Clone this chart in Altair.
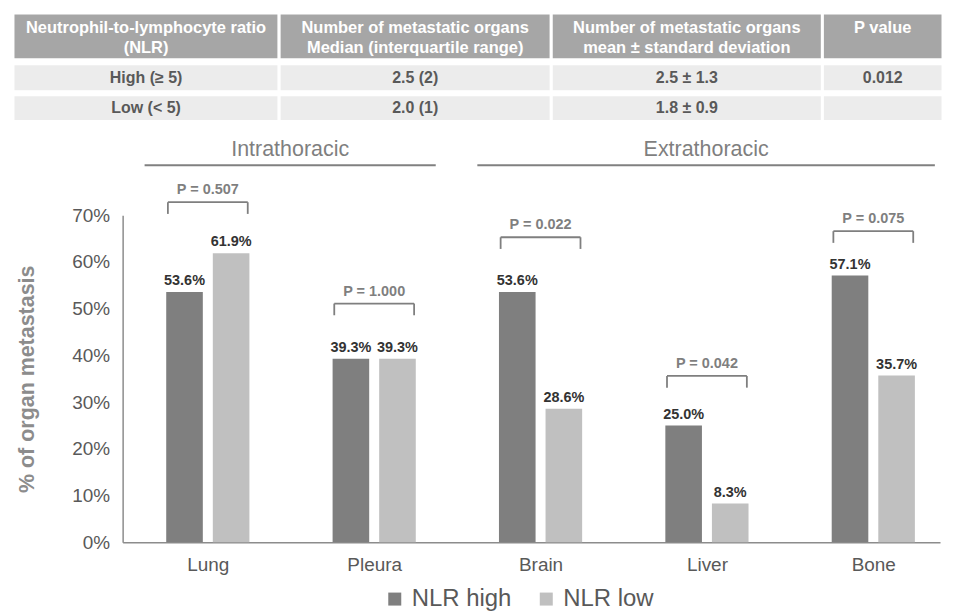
import json
import altair as alt
import pandas as pd

FONT = "Liberation Sans"

# ---------------- table content ----------------
TABLE_HEADER = [
    "Neutrophil-to-lymphocyte ratio\n(NLR)",
    "Number of metastatic organs\nMedian (interquartile range)",
    "Number of metastatic organs\nmean \u00b1 standard deviation",
    "P value",
]
ROW_HIGH = ["High (\u2265 5)", "2.5 (2)", "2.5 \u00b1 1.3", "0.012"]
ROW_LOW = ["Low (< 5)", "2.0 (1)", "1.8 \u00b1 0.9", ""]

# ---------------- chart data ----------------
ORGANS = ["Lung", "Pleura", "Brain", "Liver", "Bone"]
REGIONS = ["Intrathoracic", "Intrathoracic", "Extrathoracic", "Extrathoracic", "Extrathoracic"]
NLR_HIGH = [53.6, 39.3, 53.6, 25.0, 57.1]
NLR_LOW = [61.9, 39.3, 28.6, 8.3, 35.7]
P_VALUES = ["0.507", "1.000", "0.022", "0.042", "0.075"]
BRACKET_LEVEL = [72.8, 51.1, 65.3, 35.6, 66.6]
SERIES = ["NLR high", "NLR low"]
Y_TICKS = [0, 10, 20, 30, 40, 50, 60, 70]

# ---------------- layout constants ----------------
COL_WIDTHS = [267, 273, 272, 121]
ROW_SPANS = [(0, 47), (51, 79), (82, 109)]
TABLE_W = sum(COL_WIDTHS)
TABLE_H = 109
BAR_W = 0.22
BAR_GAP = 0.03
BRACKET_HALF = 0.24
LEG = 2.5
GROUP_LINE_Y = 80.7
GROUP_TEXT_Y = 82.6
GROUP_PAD_L = 0.38
GROUP_PAD_R = 0.37
X_DOMAIN = [-0.512, 4.401]
PLOT_W = 820
PLOT_H = 328

# ---------------- table frame ----------------
edges = [0]
for w in COL_WIDTHS:
    edges.append(edges[-1] + w)
cells = []
for r, texts in enumerate([TABLE_HEADER, ROW_HIGH, ROW_LOW]):
    for c, t in enumerate(texts):
        y0, y1 = ROW_SPANS[r]
        cells.append(dict(r=r, c=c, x0=edges[c], x1=edges[c + 1],
                          xc=(edges[c] + edges[c + 1]) / 2,
                          y0=y0, y1=y1, yc=(y0 + y1) / 2, text=t))
cells_df = pd.DataFrame(cells)

TX = alt.Scale(domain=[0, TABLE_W], nice=False, zero=False)
TY = alt.Scale(domain=[0, TABLE_H], nice=False, zero=False, reverse=True)
tbase = alt.Chart(cells_df)
t_head_rect = tbase.transform_filter("datum.r == 0").mark_rect(
    fill="#a6a6a6", stroke="white", strokeWidth=3).encode(
    x=alt.X("x0:Q", scale=TX, axis=None), x2="x1:Q",
    y=alt.Y("y0:Q", scale=TY, axis=None), y2="y1:Q")
t_body_rect = tbase.transform_filter("datum.r > 0").mark_rect(
    fill="#ececec", stroke="white", strokeWidth=3).encode(
    x=alt.X("x0:Q", scale=TX, axis=None), x2="x1:Q",
    y=alt.Y("y0:Q", scale=TY, axis=None), y2="y1:Q")
t_head_text = tbase.transform_filter("datum.r == 0").mark_text(
    lineBreak="\n", baseline="top", align="center", fontWeight="bold",
    fontSize=16.5, lineHeight=20, color="white", dy=7).encode(
    x=alt.X("xc:Q", scale=TX, axis=None),
    y=alt.Y("y0:Q", scale=TY, axis=None), text="text:N")
t_body_text = tbase.transform_filter("datum.r > 0").mark_text(
    baseline="middle", align="center", fontWeight="bold",
    fontSize=16, color="#595959").encode(
    x=alt.X("xc:Q", scale=TX, axis=None),
    y=alt.Y("yc:Q", scale=TY, axis=None), text="text:N")
table = alt.layer(t_head_rect, t_body_rect, t_head_text, t_body_text).properties(
    width=TABLE_W, height=TABLE_H)

# ---------------- bar chart frames ----------------
bar_rows = []
for i, organ in enumerate(ORGANS):
    for s, vals in zip(SERIES, [NLR_HIGH, NLR_LOW]):
        v = vals[i]
        if s == SERIES[0]:
            x0, x1 = i - BAR_GAP - BAR_W, i - BAR_GAP
        else:
            x0, x1 = i + BAR_GAP, i + BAR_GAP + BAR_W
        bar_rows.append(dict(organ=organ, series=s, value=v, x0=x0, x1=x1,
                             xc=(x0 + x1) / 2, label=f"{v:.1f}%"))
bars_df = pd.DataFrame(bar_rows)

br_rows, leg_rows = [], []
for i, organ in enumerate(ORGANS):
    lvl = BRACKET_LEVEL[i]
    br_rows.append(dict(organ=organ, idx=i, level=lvl, bl=i - BRACKET_HALF,
                        br=i + BRACKET_HALF, ptext=f"P = {P_VALUES[i]}"))
    for lx in (i - BRACKET_HALF, i + BRACKET_HALF):
        leg_rows.append(dict(lx=lx, level=lvl, level_low=lvl - LEG))
br_df = pd.DataFrame(br_rows)
leg_df = pd.DataFrame(leg_rows)

grp_rows = []
for g in dict.fromkeys(REGIONS):
    idxs = [i for i, r in enumerate(REGIONS) if r == g]
    gx0 = min(idxs) - GROUP_PAD_L
    gx1 = max(idxs) + GROUP_PAD_R
    grp_rows.append(dict(region=g, gx0=gx0, gx1=gx1, gxc=(gx0 + gx1) / 2,
                         line_y=GROUP_LINE_Y, text_y=GROUP_TEXT_Y))
grp_df = pd.DataFrame(grp_rows)

XS = alt.Scale(domain=X_DOMAIN, nice=False, zero=False)
YS = alt.Scale(domain=[0, 70], nice=False)

x_label_expr = json.dumps(ORGANS) + "[datum.value]"
XAXIS = alt.Axis(
    values=list(range(len(ORGANS))), labelExpr=x_label_expr, title=None,
    ticks=False, grid=False, labelFontSize=19, labelColor="#595959",
    labelPadding=13, labelFlush=False, labelOverlap=False,
    domainColor="#8c8c8c", domainWidth=1.5, labelFont=FONT)
YAXIS = alt.Axis(
    values=Y_TICKS, labelExpr="datum.value + '%'",
    title="% of organ metastasis", ticks=False, grid=False,
    labelFontSize=19, labelColor="#595959", labelPadding=13,
    domainColor="#8c8c8c", domainWidth=1.5, labelFont=FONT,
    titleFont=FONT, titleFontSize=21.5, titleFontWeight="bold",
    titleColor="#8c8c8c", titlePadding=33)


def X(f):
    return alt.X(f, type="quantitative", scale=XS, axis=XAXIS, title=None)


def Y(f):
    return alt.Y(f, type="quantitative", scale=YS, axis=YAXIS,
                 title="% of organ metastasis")


bars = alt.Chart(bars_df).mark_rect().encode(
    x=X("x0"),
    x2="x1:Q",
    y=Y("value"),
    y2=alt.datum(0),
    color=alt.Color("series:N", scale=alt.Scale(domain=SERIES, range=["#7f7f7f", "#c0c0c0"]),
                    legend=alt.Legend(orient="none", legendX=371, legendY=373,
                                      direction="horizontal", title=None,
                                      symbolType="square", symbolSize=170,
                                      symbolStrokeWidth=0, labelFontSize=24,
                                      labelColor="#595959", labelFont=FONT,
                                      labelOffset=5, columnPadding=22)),
)

value_labels = alt.Chart(bars_df).mark_text(
    fontWeight="bold", fontSize=14.5, color="#333333", dy=-7,
    baseline="alphabetic").encode(x=X("xc"), y=Y("value"), text="label:N")

bracket_top = alt.Chart(br_df).mark_rule(color="#7f7f7f", strokeWidth=1.8).encode(
    x=X("bl"), x2="br:Q", y=Y("level"))
bracket_legs = alt.Chart(leg_df).mark_rule(color="#7f7f7f", strokeWidth=1.8).encode(
    x=X("lx"), y=Y("level"), y2="level_low:Q")
p_text = alt.Chart(br_df).mark_text(
    fontWeight="bold", fontSize=14.5, color="#7f7f7f", dy=-8,
    baseline="alphabetic").encode(x=X("idx"), y=Y("level"), text="ptext:N")

group_line = alt.Chart(grp_df).mark_rule(color="#808080", strokeWidth=2).encode(
    x=X("gx0"), x2="gx1:Q", y=Y("line_y"))
group_text = alt.Chart(grp_df).mark_text(
    fontSize=21.5, color="#7f7f7f", baseline="alphabetic").encode(
    x=X("gxc"), y=Y("text_y"), text="region:N")

plot = alt.layer(bars, value_labels, bracket_top, bracket_legs, p_text,
                 group_line, group_text).properties(width=PLOT_W, height=PLOT_H)

spacer = alt.Chart(pd.DataFrame({"v": [0]})).mark_point(opacity=0).encode(
    x=alt.value(0), y=alt.value(0)).properties(width=2, height=10)

row = alt.hconcat(spacer, plot, spacing=0)

chart = alt.vconcat(table, row, spacing=15).resolve_scale(
    x="independent", y="independent", color="independent"
).properties(
    padding={"left": 2, "top": 2, "right": 0, "bottom": 0}
).configure(font=FONT).configure_view(strokeWidth=0)

chart.save("out.html", embed_options={"renderer": "svg", "actions": False})
